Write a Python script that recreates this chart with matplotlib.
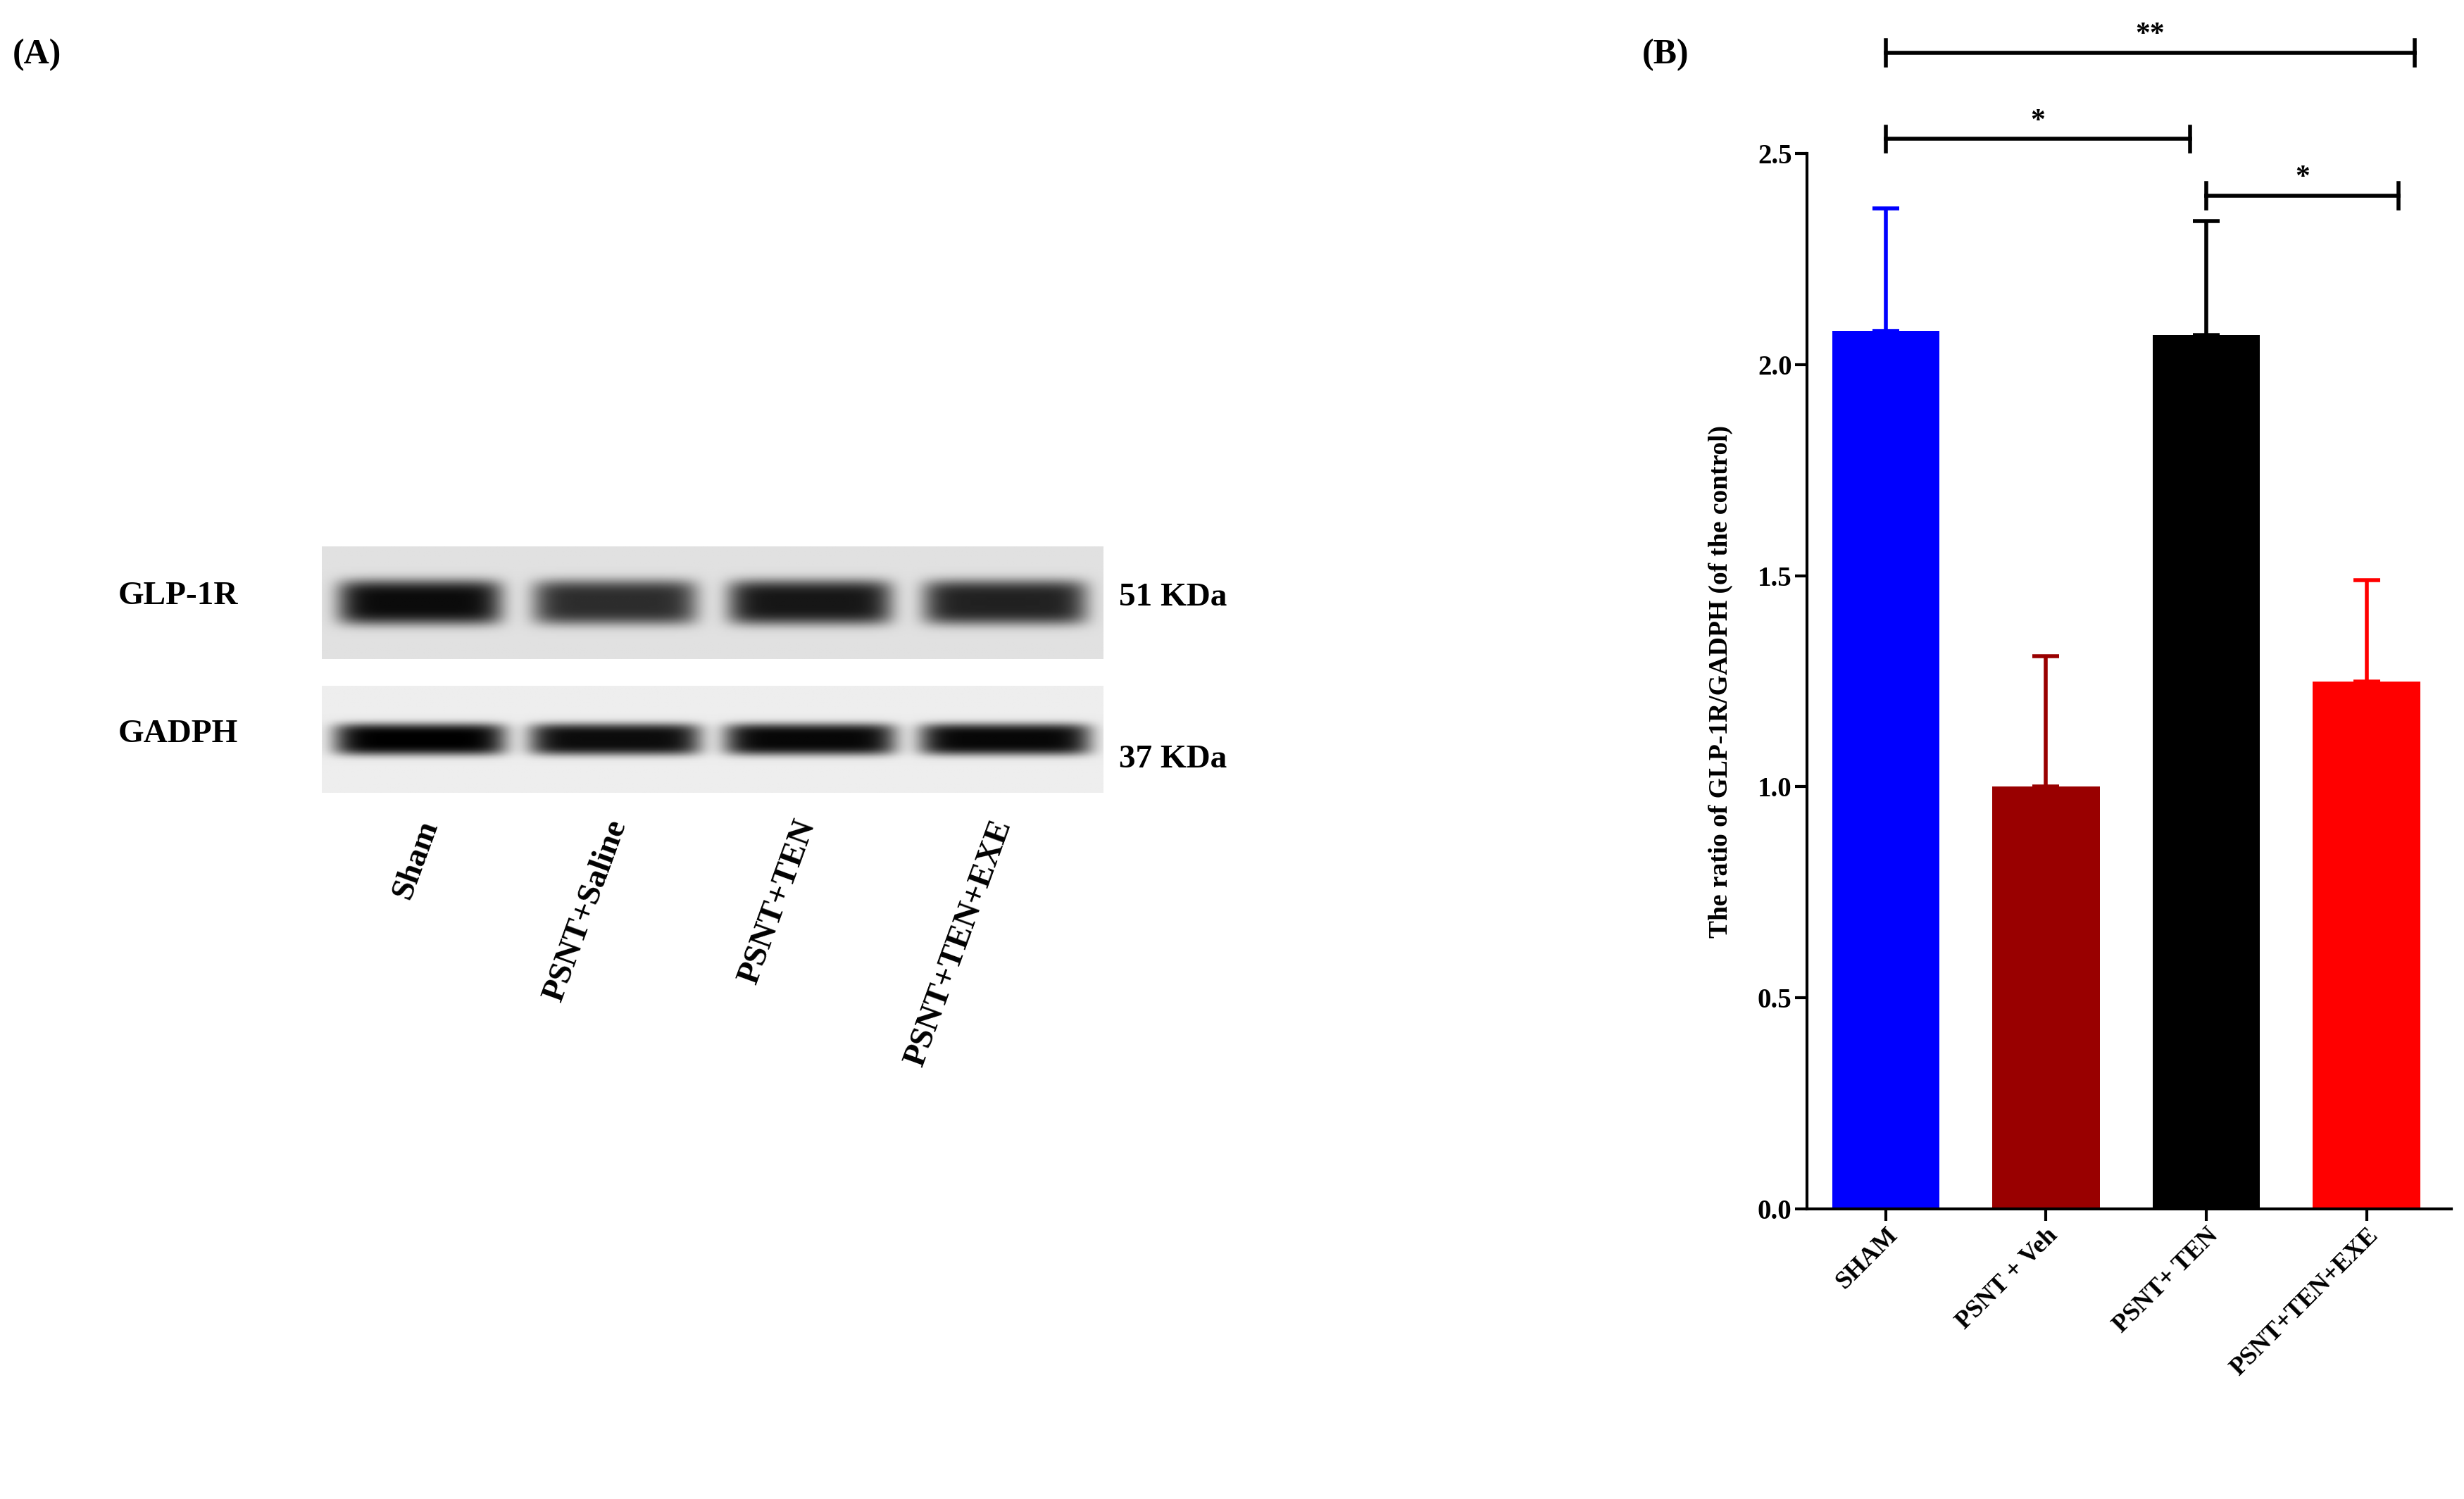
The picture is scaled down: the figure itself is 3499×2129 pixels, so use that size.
import numpy as np
import matplotlib
matplotlib.use("Agg")
import matplotlib.pyplot as plt

plt.rcParams['font.family'] = ['Liberation Serif', 'DejaVu Serif']
plt.rcParams['font.weight'] = 'bold'

# Data
groups = ["SHAM", "PSNT + Veh", "PSNT+ TEN", "PSNT+TEN+EXE"]
values = [2.08, 1.00, 2.07, 1.25]
errors = [0.29, 0.31, 0.27, 0.24]
colors = ["#0000FF", "#990000", "#000000", "#FF0000"]
sig_pairs = [(0, 3.3, 2.74, "**"), (0, 1.9, 2.535, "*"), (2.0, 3.2, 2.40, "*")]

blot_lanes = ["Sham", "PSNT+Saline", "PSNT+TEN", "PSNT+TEN+EXE"]
glp_intensity = [0.95, 0.80, 0.90, 0.85]
gadph_intensity = [1.0, 0.95, 0.97, 0.97]

W, H = 1568, 955
fig = plt.figure(figsize=(34.99, 21.29), dpi=100)
def rect(x0, y0, x1, y1):
    return [x0 / W, 1 - y1 / H, (x1 - x0) / W, (y1 - y0) / H]

# Panel B
ax = fig.add_axes(rect(1150, 98, 1560, 770))
x = np.arange(len(groups))
ax.bar(x, values, width=0.67, color=colors, zorder=2)
for xi, v, e, c in zip(x, values, errors, colors):
    ax.errorbar(xi, v, yerr=[[0], [e]], fmt='none', ecolor=c, elinewidth=4, capsize=14, capthick=4)
ax.set_xlim(-0.49, 3.53)
ax.set_ylim(0, 2.5)
ax.set_yticks([0, 0.5, 1.0, 1.5, 2.0, 2.5])
ax.set_yticklabels(["0.0", "0.5", "1.0", "1.5", "2.0", "2.5"])
ax.set_xticks(x)
ax.set_xticklabels(groups, rotation=45, ha='right', rotation_mode='anchor', fontsize=26, fontweight='bold')
ax.tick_params(axis='y', labelsize=28, width=3, length=12)
ax.tick_params(axis='x', width=3, length=12)
for lab in ax.get_yticklabels():
    lab.set_fontweight('bold')
ax.spines['top'].set_visible(False)
ax.spines['right'].set_visible(False)
ax.spines['left'].set_linewidth(3)
ax.spines['bottom'].set_linewidth(3)
ax.set_ylabel("The ratio of GLP-1R/GADPH (of the control)", fontsize=27, fontweight='bold', labelpad=25)
for a, b, y, t in sig_pairs:
    ax.plot([a, b], [y, y], color='black', lw=4, clip_on=False)
    ax.plot([a, a], [y - 0.03, y + 0.03], color='black', lw=4, clip_on=False)
    ax.plot([b, b], [y - 0.03, y + 0.03], color='black', lw=4, clip_on=False)
    ax.text((a + b) / 2, y + 0.01, t, ha='center', va='bottom', fontsize=30, fontweight='bold')

# Panel A blots
def make_blot(intensities, sx, sy, bg):
    nx, ny = 500, 70
    xs = np.linspace(0, 4, nx)
    ys = np.linspace(-1, 1, ny)
    img = np.full((ny, nx), bg)
    for i, inten in enumerate(intensities):
        band = inten * np.exp(-((xs - (i + 0.5)) / sx) ** 8)[None, :] * np.exp(-(ys / sy) ** 4)[:, None]
        img = img - band * bg
    return np.clip(img, 0, 1)

axb1 = fig.add_axes(rect(205, 348, 702, 420))
axb1.imshow(make_blot(glp_intensity, 0.42, 0.4, 0.88), cmap='gray', vmin=0, vmax=1, aspect='auto')
axb1.axis('off')
axb2 = fig.add_axes(rect(205, 437, 702, 505))
axb2.imshow(make_blot(gadph_intensity, 0.44, 0.3, 0.93), cmap='gray', vmin=0, vmax=1, aspect='auto')
axb2.axis('off')

fig.text(75 / W, 1 - 380 / H, "GLP-1R", fontsize=34, fontweight='bold', va='center')
fig.text(75 / W, 1 - 468 / H, "GADPH", fontsize=34, fontweight='bold', va='center')
fig.text(712 / W, 1 - 381 / H, "51 KDa", fontsize=34, fontweight='bold', va='center')
fig.text(712 / W, 1 - 484 / H, "37 KDa", fontsize=34, fontweight='bold', va='center')
lane_x = [265, 385, 505, 630]
for lx, lab in zip(lane_x, blot_lanes):
    fig.text(lx / W, 1 - 520 / H, lab, fontsize=34, fontweight='bold', rotation=70,
             ha='right', va='top', rotation_mode='anchor')

fig.text(8 / W, 1 - 35 / H, "(A)", fontsize=36, fontweight='bold', va='center')
fig.text(1045 / W, 1 - 35 / H, "(B)", fontsize=36, fontweight='bold', va='center')

fig.savefig("out.png", dpi=100, facecolor='white')
